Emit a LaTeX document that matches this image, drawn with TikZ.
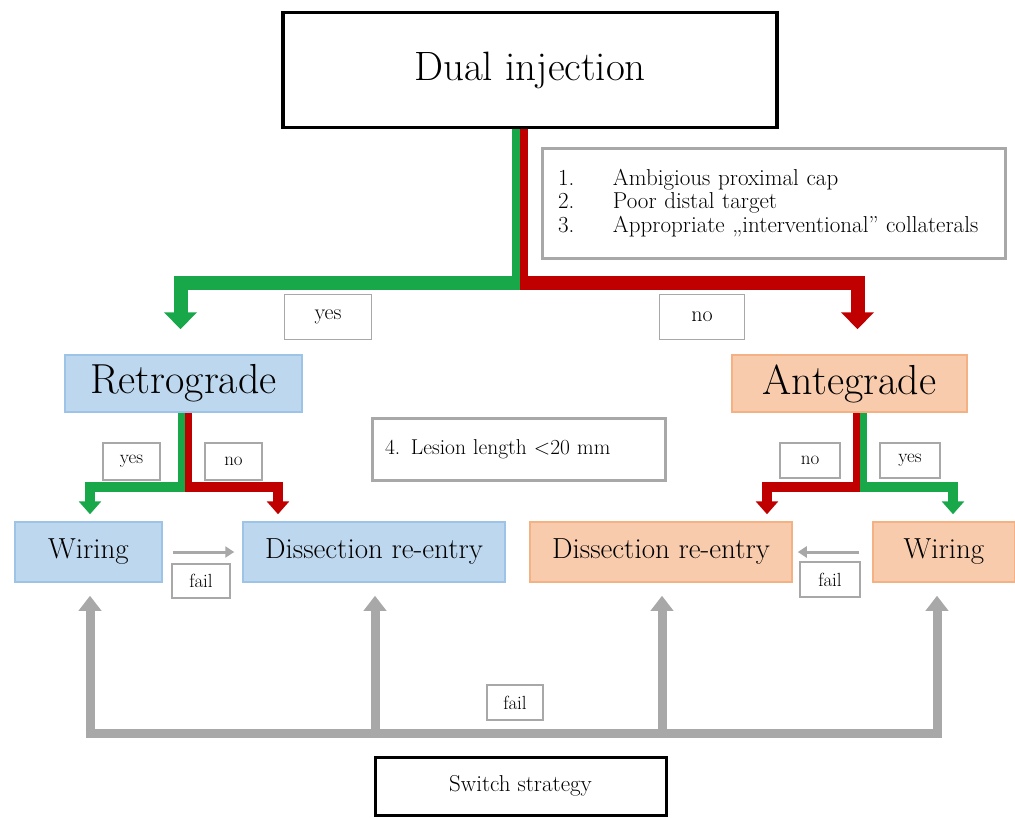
\documentclass[tikz,border=0pt]{standalone}
\usepackage{fontspec}
\usepackage{xcolor}
\usepackage{tikz}
\usetikzlibrary{arrows.meta, positioning, calc}
\definecolor{grn}{RGB}{24,168,74}
\definecolor{rd}{RGB}{192,0,0}
\definecolor{gry}{RGB}{168,168,168}
\definecolor{bluefill}{RGB}{189,215,238}
\definecolor{blueline}{RGB}{157,195,230}
\definecolor{peachfill}{RGB}{248,203,173}
\definecolor{peachline}{RGB}{244,177,131}
\newcommand{\fs}[1]{\fontsize{#1}{1.1\dimexpr#1pt\relax}\selectfont}

\begin{document}
\begin{tikzpicture}[x=1pt, y=-1pt,
  bigbox/.style={draw=black, line width=3.5pt, fill=white, inner sep=0pt},
  notebox/.style={draw=gry, line width=3pt, fill=white, inner sep=0pt},
  tagbox/.style={draw=gry, line width=1.5pt, fill=white, inner sep=0pt},
  blueblock/.style={draw=blueline, line width=1.5pt, fill=bluefill, inner sep=0pt},
  peachblock/.style={draw=peachline, line width=1.5pt, fill=peachfill, inner sep=0pt},
  greenpath/.style={draw=grn, line join=miter},
  redpath/.style={draw=rd, line join=miter},
  graypath/.style={draw=gry, line join=miter},
  bigtip/.style={-{Triangle[width=32pt,length=17pt]}},
  midtip/.style={-{Triangle[width=22pt,length=13pt]}}]
\useasboundingbox (0,0) rectangle (1015,817);

\node[bigbox, minimum width=494pt, minimum height=115pt, font=\fs{41}] (dual) at (530,70) {Dual injection};
\node[notebox, minimum width=463pt, minimum height=110pt, text width=431pt, align=left, font=\fs{23}] (crit) at (773.5,203)
  {\makebox[55pt][l]{1.}Ambigious proximal cap\\[-2pt]
   \makebox[55pt][l]{2.}Poor distal target\\[-2pt]
   \makebox[55pt][l]{3.}Appropriate „interventional” collaterals};
\node[tagbox, minimum width=87pt, minimum height=45pt, font=\fs{22}] (yesa) at (328,317) {yes};
\node[tagbox, minimum width=85pt, minimum height=45pt, font=\fs{22}] (noa) at (702,317) {no};

\node[blueblock, minimum width=237pt, minimum height=57pt, font=\fs{42}] (retro) at (183.5,383.5) {Retrograde};
\node[peachblock, minimum width=235pt, minimum height=57pt, font=\fs{42}] (ante) at (849.5,383.5) {Antegrade};
\node[notebox, minimum width=293pt, minimum height=62pt, text width=267pt, align=left, font=\fs{21.5}] (lesion) at (518.5,449) {4. Lesion length <20 mm};

\node[tagbox, minimum width=57pt, minimum height=37pt, font=\fs{19}] (yesb) at (131.5,461.5) {yes};
\node[tagbox, minimum width=57pt, minimum height=37pt, font=\fs{19}] (nob) at (233.5,461.5) {no};
\node[tagbox, minimum width=60pt, minimum height=35pt, font=\fs{19}] (noc) at (810,460.5) {no};
\node[tagbox, minimum width=60pt, minimum height=35pt, font=\fs{19}] (yesc) at (910,460.5) {yes};

\node[blueblock, minimum width=147pt, minimum height=60pt, font=\fs{29}] (wirL) at (88.5,552) {Wiring};
\node[blueblock, minimum width=262pt, minimum height=60pt, font=\fs{29}] (disL) at (374,552) {Dissection re-entry};
\node[peachblock, minimum width=262pt, minimum height=60pt, font=\fs{29}] (disR) at (661,552) {Dissection re-entry};
\node[peachblock, minimum width=142pt, minimum height=60pt, font=\fs{29}] (wirR) at (944,552) {Wiring};

\node[tagbox, minimum width=58pt, minimum height=34pt, font=\fs{19}] (failL) at (201,581) {fail};
\node[tagbox, minimum width=60pt, minimum height=35pt, font=\fs{19}] (failR) at (830,579.5) {fail};
\node[tagbox, minimum width=56pt, minimum height=35pt, font=\fs{19}] (failB) at (515,702.5) {fail};
\node[bigbox, line width=3pt, minimum width=291pt, minimum height=58pt, font=\fs{23}] (switch) at (520.5,786) {Switch strategy};

\coordinate (top) at (520,283);
\draw[greenpath, line width=8pt] ($(top)+(-4,7)$) -- ($(top |- dual.south)+(-4,0)$);
\draw[redpath, line width=8pt] ($(top)+(4,7)$) -- ($(top |- dual.south)+(4,0)$);
\draw[greenpath, line width=14pt, bigtip, shorten >=25pt] (top) -| ($(retro.north)+(-3,0)$);
\draw[redpath, line width=14pt, bigtip, shorten >=25pt] (top) -| ($(ante.north)+(8,0)$);

\coordinate (rsplit) at (185,487);
\draw[greenpath, line width=7pt] ($(rsplit)+(-3.5,5)$) -- ($(rsplit |- retro.south)+(-3.5,0)$);
\draw[redpath, line width=7pt] ($(rsplit)+(3.5,5)$) -- ($(rsplit |- retro.south)+(3.5,0)$);
\draw[greenpath, line width=10pt, midtip, shorten >=7pt] (rsplit) -| ($(wirL.north)+(1.5,0)$);
\draw[redpath, line width=10pt, midtip, shorten >=7pt] (rsplit) -| ($(disL.north)+(-96,0)$);

\coordinate (asplit) at (860,487);
\draw[redpath, line width=7pt] ($(asplit)+(-3.5,5)$) -- ($(asplit |- ante.south)+(-3.5,0)$);
\draw[greenpath, line width=7pt] ($(asplit)+(3.5,5)$) -- ($(asplit |- ante.south)+(3.5,0)$);
\draw[redpath, line width=10pt, midtip, shorten >=7pt] (asplit) -| ($(disR.north)+(106,0)$);
\draw[greenpath, line width=10pt, midtip, shorten >=7pt] (asplit) -| ($(wirR.north)+(9,0)$);

\draw[graypath, line width=3pt, -{Triangle[width=11pt,length=9pt]}, shorten <=10pt, shorten >=8pt] (wirL) -- (disL);
\draw[graypath, line width=3pt, -{Triangle[width=11pt,length=9pt]}, shorten <=13pt, shorten >=5pt] (wirR) -- (disR);

\coordinate (bar) at (515,733);
\draw[graypath, line width=9pt] ($(wirL.south |- bar)+(-3,0)$) -- ($(wirR.south |- bar)+(-2.5,0)$);
\foreach \b/\dx in {wirL/1.5, disL/1, disR/1, wirR/-7}
  \draw[graypath, line width=9pt, -{Triangle[width=22pt,length=15pt]}, shorten >=13pt] ($(\b.south |- bar)+(\dx,4.5)$) -- ($(\b.south)+(\dx,0)$);
\end{tikzpicture}
\end{document}
